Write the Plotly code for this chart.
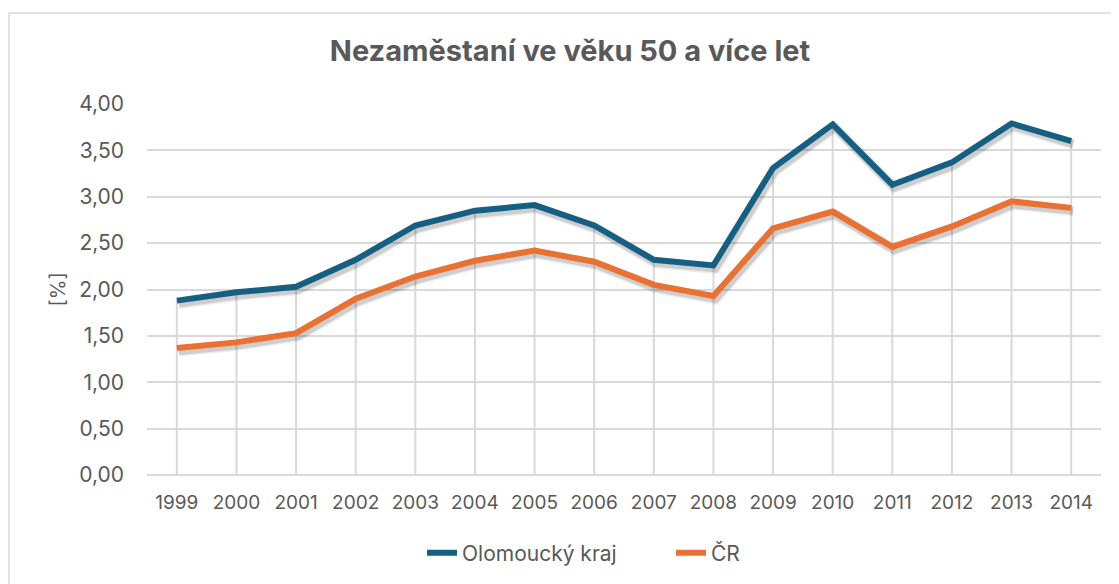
import plotly.graph_objects as go

years = ["1999", "2000", "2001", "2002", "2003", "2004", "2005", "2006",
         "2007", "2008", "2009", "2010", "2011", "2012", "2013", "2014"]
olomoucky = [1.88, 1.97, 2.03, 2.32, 2.69, 2.85, 2.91, 2.69,
             2.32, 2.26, 3.31, 3.78, 3.13, 3.37, 3.79, 3.60]
cr = [1.37, 1.43, 1.53, 1.90, 2.14, 2.31, 2.42, 2.30,
      2.05, 1.93, 2.66, 2.84, 2.46, 2.68, 2.95, 2.88]
y_ticks = [0, 0.5, 1, 1.5, 2, 2.5, 3, 3.5, 4]

TEXT = "#595959"
GRID = "#d9d9d9"
BLUE = "#156082"
ORANGE = "#E97132"
FONT = "Inter, Roboto, sans-serif"

# the page body adds an 8px offset, so the figure is laid out 8px up/left
PLOT_L, PLOT_R, PLOT_T, PLOT_B = 139, 1093, 96, 467
W, H = 1119, 584
plot_w = PLOT_R - PLOT_L
plot_h = PLOT_B - PLOT_T


def px(x):
    # page pixel x -> paper fraction
    return (x - 147) / plot_w


def py(y):
    # page pixel y -> paper fraction
    return (475 - y) / plot_h


idx = list(range(len(years)))

fig = go.Figure()

# drop lines from the upper series down to the axis
drop_x, drop_y = [], []
for i, (a, b) in enumerate(zip(olomoucky, cr)):
    drop_x += [i, i, None]
    drop_y += [0, max(a, b), None]
fig.add_trace(go.Scatter(x=drop_x, y=drop_y, mode="lines", showlegend=False,
                         hoverinfo="skip", line=dict(color=GRID, width=2)))

# soft shadows, drawn on shifted overlay axes (x2/y2), beneath the lines (x3/y3)
for values in (olomoucky, cr):
    for width, alpha in ((11, 0.07), (8, 0.13)):
        fig.add_trace(go.Scatter(x=idx, y=values, mode="lines", showlegend=False,
                                 hoverinfo="skip", xaxis="x2", yaxis="y2",
                                 line=dict(color=f"rgba(0,0,0,{alpha})", width=width)))

fig.add_trace(go.Scatter(x=idx, y=olomoucky, mode="lines", name="Olomoucký kraj",
                         xaxis="x3", yaxis="y3",
                         line=dict(color=BLUE, width=6), legend="legend"))
fig.add_trace(go.Scatter(x=idx, y=cr, mode="lines", name="ČR",
                         xaxis="x3", yaxis="y3",
                         line=dict(color=ORANGE, width=6), legend="legend2"))

one_x = 16 / plot_w  # one pixel in x category units
one_y = 4 / plot_h   # one pixel in y units

legend_style = dict(orientation="h", xanchor="left", yanchor="middle",
                    font=dict(size=21, color=TEXT), bgcolor="rgba(0,0,0,0)")

fig.update_layout(
    width=W, height=H,
    margin=dict(l=PLOT_L, r=W - PLOT_R, t=PLOT_T, b=H - PLOT_B),
    paper_bgcolor="white", plot_bgcolor="white",
    font=dict(family=FONT, color=TEXT),
    title=dict(text="<b>Nezaměstaní ve věku 50 a více let</b>",
               font=dict(size=29, color=TEXT, family=FONT),
               x=px(570), xref="paper", xanchor="center",
               y=1 - 43 / H, yref="container", yanchor="middle"),
    xaxis=dict(range=[-0.5, 15.5], tickmode="array", tickvals=idx, ticktext=years,
               showgrid=False, zeroline=False, showline=False, ticks="",
               tickfont=dict(size=19, color=TEXT), ticklabelstandoff=14,
               fixedrange=True),
    yaxis=dict(range=[0, 4], tickvals=y_ticks,
               ticktext=[f"{v:.2f}".replace(".", ",") for v in y_ticks],
               showgrid=True, gridcolor=GRID, gridwidth=2,
               zeroline=True, zerolinecolor=GRID, zerolinewidth=2,
               showline=False, ticks="", tickfont=dict(size=21, color=TEXT),
               ticklabelstandoff=22),
    xaxis2=dict(overlaying="x", range=[-0.5 - 2 * one_x, 15.5 - 2 * one_x], visible=False),
    yaxis2=dict(overlaying="y", range=[3 * one_y, 4 + 3 * one_y], visible=False),
    xaxis3=dict(overlaying="x", range=[-0.5, 15.5], visible=False),
    yaxis3=dict(overlaying="y", range=[0, 4], visible=False),
    legend=dict(x=px(422), y=py(553), **legend_style),
    legend2=dict(x=px(671), y=py(553), **legend_style),
    showlegend=True,
    annotations=[dict(text="[%]", textangle=-90, xref="paper", yref="paper",
                      x=px(57), y=0.5, xanchor="center", yanchor="middle",
                      showarrow=False, font=dict(size=20, color=TEXT))],
    shapes=[dict(type="rect", xref="paper", yref="paper",
                 x0=px(9), x1=px(1135), y0=py(600), y1=py(13),
                 line=dict(color=GRID, width=1.5), fillcolor="rgba(0,0,0,0)",
                 layer="below")],
)

fig.write_html("out.html")
